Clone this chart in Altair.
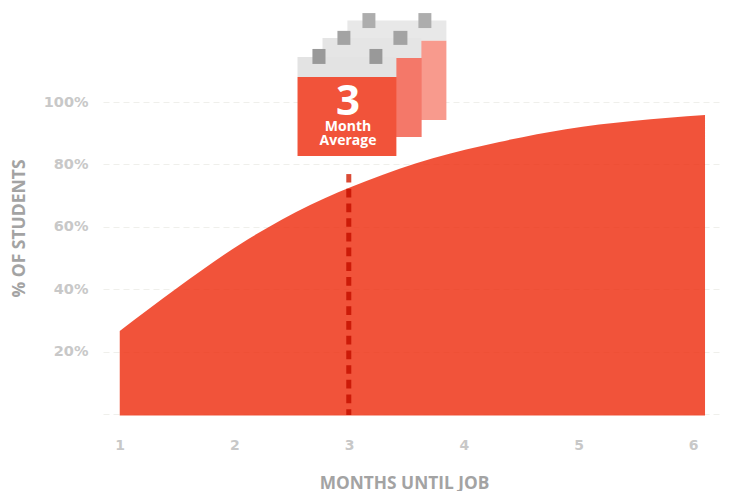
import altair as alt
import pandas as pd

months = [1.0, 1.50, 2.07, 2.66, 3.15, 3.73, 4.31, 4.89, 5.47, 6.103]
share = [26.6, 40.4, 54.9, 67.0, 74.7, 82.0, 87.2, 91.3, 93.9, 95.8]
x_ticks = [1, 2, 3, 4, 5, 6]
y_ticks = [0, 20, 40, 60, 80, 100]

# Calendar icon, expressed in axis units (months, percent), back to front
cal_x = [2.985, 3.116, 3.604, 2.985, 3.633, 2.768, 2.898, 3.386, 2.768, 3.412, 2.550, 2.680, 3.177, 2.550]
cal_x2 = [3.848, 3.229, 3.717, 3.848, 3.848, 3.630, 3.011, 3.508, 3.630, 3.630, 3.412, 2.794, 3.290, 3.412]
cal_y = [126.1, 128.5, 128.5, 119.6, 119.6, 120.5, 122.8, 122.8, 114.1, 114.1, 114.4, 117.0, 117.0, 108.0]
cal_y2 = [119.6, 123.7, 123.7, 94.2, 119.6, 114.1, 118.3, 118.3, 88.8, 88.8, 108.0, 112.2, 112.2, 82.7]
cal_c = ["#e8e8e8", "#adadad", "#adadad", "#f89a8d", "#f89a8d", "#e5e5e5", "#a3a3a3", "#a3a3a3", "#f47869", "#f47869",
         "#e3e3e3", "#999999", "#999999", "#f1533a"]

x_scale = alt.Scale(domain=[0.854, 6.251], nice=False, zero=False)
y_scale = alt.Scale(domain=[0, 100], nice=False)

area_df = pd.DataFrame({"month": months, "share": share, "floor": [-0.45] * len(months)})

area = alt.Chart(area_df).mark_area(color="#ee2809", opacity=0.8, interpolate="monotone").encode(
    x=alt.X("month:Q", scale=x_scale, axis=alt.Axis(
        values=x_ticks, format="d", domain=False, ticks=False, grid=False,
        labelFont="DejaVu Sans", labelFontWeight=700, labelFontSize=14, labelColor="#c8c8c8", labelPadding=24,
        title="MONTHS UNTIL JOB", titleFont="Open Sans", titleFontWeight=700, titleFontSize=17.3,
        titleColor="#a3a3a3", titleX=301, titleY=60)),
    y=alt.Y("share:Q", scale=y_scale, axis=alt.Axis(
        values=y_ticks, labelExpr="datum.value === 0 ? '' : datum.value + '%'", domain=False, ticks=False,
        grid=True, gridColor="#efefeb", gridDash=[6, 4], gridWidth=1,
        labelFont="DejaVu Sans", labelFontWeight=700, labelFontSize=14.5, labelColor="#c8c8c8", labelPadding=15,
        title="% OF STUDENTS", titleFont="Open Sans", titleFontWeight=700, titleFontSize=17.5,
        titleColor="#a3a3a3", titleX=-74.5, titleY=126)),
    y2="floor:Q",
)

rule_df = pd.DataFrame({"month": [2.997, 2.997], "top": [76.9, 72.2], "bottom": [74.2, -0.3], "c": ["#da4a35", "#cc1a08"]})
rule = alt.Chart(rule_df).mark_rule(strokeWidth=5, strokeDash=[8.7, 6]).encode(
    x=alt.X("month:Q", scale=x_scale), y=alt.Y("top:Q", scale=y_scale), y2="bottom:Q",
    color=alt.Color("c:N", scale=None, legend=None),
)

cal_df = pd.DataFrame({"x": cal_x, "x2": cal_x2, "y": cal_y, "y2": cal_y2, "c": cal_c, "o": list(range(len(cal_x)))})
cal = alt.Chart(cal_df).mark_rect(strokeWidth=0).encode(
    x=alt.X("x:Q", scale=x_scale), x2="x2:Q",
    y=alt.Y("y:Q", scale=y_scale), y2="y2:Q",
    color=alt.Color("c:N", scale=None, legend=None),
    order="o:Q",
)

text_df = pd.DataFrame({"x": [2.99, 2.99, 2.99], "y": [100.0, 92.0, 87.4], "t": ["3", "Month", "Average"], "s": [42, 14, 14]})
label = alt.Chart(text_df).mark_text(color="white", font="Open Sans", fontWeight=700).encode(
    x=alt.X("x:Q", scale=x_scale), y=alt.Y("y:Q", scale=y_scale), text="t:N",
    size=alt.Size("s:Q", scale=None, legend=None),
)

chart = alt.layer(area, rule, cal, label).resolve_scale(color="independent").properties(
    width=619, height=312,
    autosize=alt.AutoSizeParams(type="none"),
    padding={"left": 95, "top": 94, "right": 6, "bottom": 82},
).configure_view(stroke=None)

chart.save("out.html", embed_options={"renderer": "svg", "actions": False})
